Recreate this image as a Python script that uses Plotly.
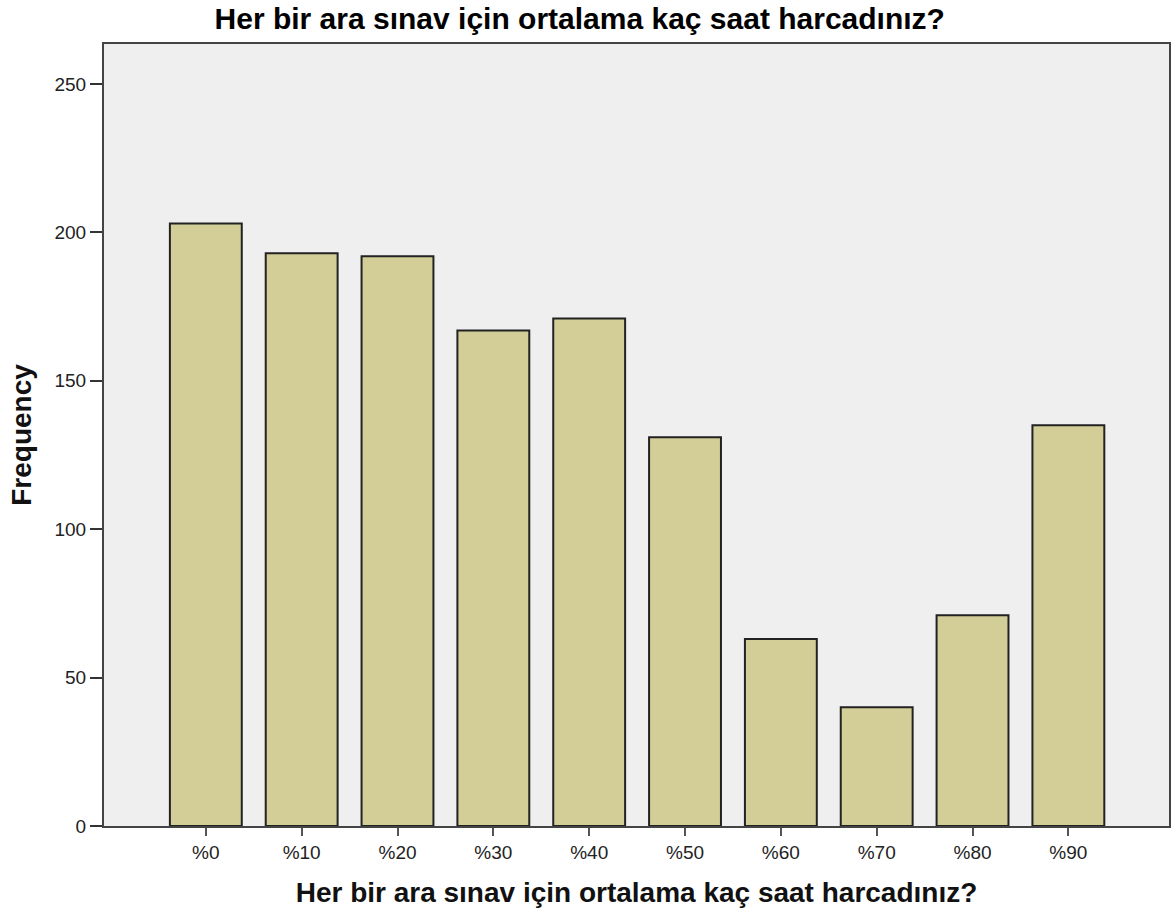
import plotly.graph_objects as go

categories = ["%0", "%10", "%20", "%30", "%40", "%50", "%60", "%70", "%80", "%90"]
frequencies = [203, 193, 192, 167, 171, 131, 63, 40, 71, 135]
y_ticks = [0, 50, 100, 150, 200, 250]

title_text = "Her bir ara sınav için ortalama kaç saat harcadınız?"

fig = go.Figure()
fig.add_trace(go.Bar(
    x=list(range(len(categories))),
    y=frequencies,
    width=0.75,
    marker=dict(color="#D3CE97", line=dict(color="#222222", width=2)),
))

fig.update_layout(
    width=1176, height=919,
    margin=dict(l=104, r=5, t=44, b=93),
    paper_bgcolor="white",
    plot_bgcolor="#EFEFEF",
    showlegend=False,
    font=dict(family="Liberation Sans, Arial, sans-serif", color="#222222"),
    title=dict(text="<b>" + title_text + "</b>", x=0.493, xanchor="center",
               y=0.980, yanchor="middle", font=dict(size=30, color="#000000")),
)
fig.update_xaxes(
    range=[-1.0625, 10.05],
    tickmode="array", tickvals=list(range(len(categories))), ticktext=categories,
    ticks="outside", ticklen=8, tickcolor="#555555", tickwidth=2,
    showline=True, linecolor="#444444", linewidth=2, mirror=True,
    showgrid=False, zeroline=False,
    tickfont=dict(size=19, color="#222222"),
    title=dict(text="<b>" + title_text + "</b>", font=dict(size=28, color="#111111"), standoff=21),
)
fig.update_yaxes(
    range=[0, 263.5],
    tickmode="array", tickvals=y_ticks,
    ticks="outside", ticklen=12, tickcolor="#333333", tickwidth=2,
    showline=True, linecolor="#444444", linewidth=2, mirror=True,
    showgrid=False, zeroline=False,
    tickfont=dict(size=19, color="#222222"),
    title=dict(text="<b>Frequency</b>", font=dict(size=28, color="#111111"), standoff=15),
)

fig.write_html("out.html", config={"displayModeBar": False},
               post_script="document.body.style.margin='0';")
